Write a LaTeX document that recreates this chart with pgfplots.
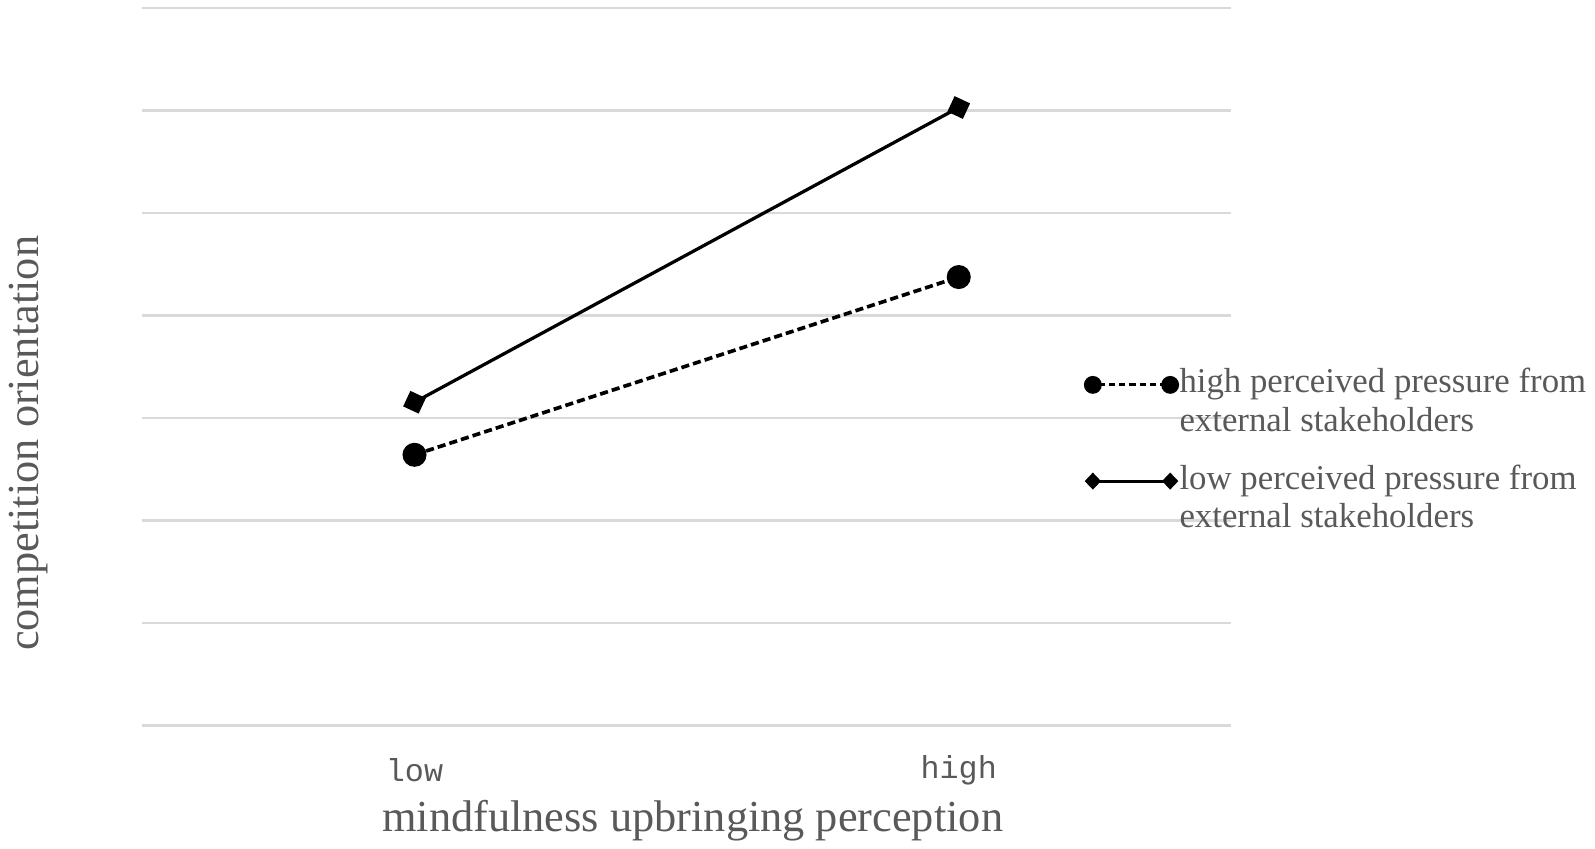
\documentclass[border=0pt]{standalone}
\usepackage{pgfplots}
\pgfplotsset{compat=1.18}
\usepackage{fontspec}
\setmainfont{Liberation Serif}
\setmonofont{Liberation Mono}
\definecolor{txt}{HTML}{595959}
\definecolor{gridc}{HTML}{D9D9D9}
\begin{document}
\begin{tikzpicture}
\begin{axis}[
  at={(70pt,60.5pt)}, anchor=south west,
  scale only axis, width=535pt, height=352.5pt,
  xmin=-0.5, xmax=1.5, ymin=0, ymax=7,
  axis line style={draw=none},
  tick style={draw=none},
  ytick={0,1,2,3,4,5,6,7}, yticklabels={},
  ymajorgrids, grid style={gridc, line width=1.3pt},
  xtick={0,1}, xticklabels={low,high},
  xticklabel style={font=\ttfamily\fontsize{15.6}{18}\selectfont, text=txt, anchor=center, yshift=-22pt},
  xlabel={mindfulness upbringing perception},
  ylabel={competition orientation},
  xlabel style={at={(axis description cs:0.5056,-0.1335)}, anchor=center, font=\fontsize{21.8}{26}\selectfont, text=txt},
  ylabel style={at={(axis description cs:-0.1047,0.393)}, anchor=center, font=\fontsize{21.8}{26}\selectfont, text=txt},
  legend style={at={(rel axis cs:0.865,0.507)}, anchor=north west, draw=none, fill=none, inner sep=0pt, outer sep=0pt, font=\fontsize{17.1}{19}\selectfont, text=txt, row sep=28.5pt, column sep=-1.8pt, cells={anchor=base west}},
  clip=false,
]
\addplot[black, line width=1.8pt, dash pattern=on 4pt off 2pt, mark=*, mark size=5pt, mark options={solid},
  legend image code/.code={
    \draw[black, solid, line width=1.4pt, dash pattern=on 3pt off 2pt] (3pt,3.9pt) -- (36pt,3.9pt);
    \fill[black, solid, draw=none] (0pt,3.9pt) circle (4.4pt);
    \fill[black, solid, draw=none] (38pt,3.9pt) circle (4.4pt);
  }] coordinates {(0,2.64) (1,4.375)};
\addlegendentry{\begin{tabular}[t]{@{}l@{}}high perceived pressure from\\external stakeholders\end{tabular}}
\addplot[black, line width=1.6pt, mark=square*, mark size=3.4pt, mark options={solid, rotate=-25},
  legend image code/.code={
    \draw[black, solid, line width=1.4pt] (0pt,3.9pt) -- (38pt,3.9pt);
    \fill[black, solid, draw=none] (0pt,3.9pt) ++(0,-4.2pt) -- ++(4pt,4.2pt) -- ++(-4pt,4.2pt) -- ++(-4pt,-4.2pt) -- cycle;
    \fill[black, solid, draw=none] (38pt,3.9pt) ++(0,-4.2pt) -- ++(4pt,4.2pt) -- ++(-4pt,4.2pt) -- ++(-4pt,-4.2pt) -- cycle;
  }] coordinates {(0,3.153) (1,6.03)};
\addlegendentry{\begin{tabular}[t]{@{}l@{}}low perceived pressure from\\external stakeholders\end{tabular}}
\end{axis}
\pgfresetboundingbox
\path (0,0) rectangle (784pt,417pt);
\end{tikzpicture}
\end{document}
